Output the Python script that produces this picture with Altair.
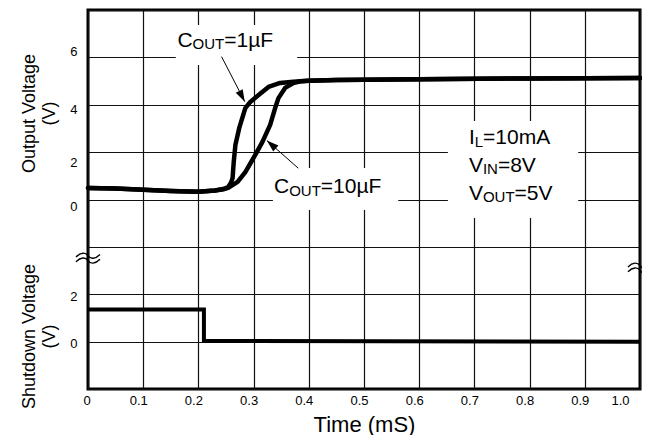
import altair as alt
import pandas as pd

WIDTH, HEIGHT = 552, 379
Y_OUT_DOMAIN = [-8, 8]
Y_SD_DOMAIN = [-2, 14]
PX_T = WIDTH / 1.0            # pixels per ms
PX_V = HEIGHT / 16.0          # pixels per volt
FONT = "Liberation Sans"

# ---------------- data ----------------
# shared start of both output curves
t_start = [0.00, 0.05, 0.10, 0.15, 0.20, 0.23]
v_start = [0.49, 0.46, 0.41, 0.36, 0.33, 0.38]
# C_OUT = 1 uF rise
t_1uf = [0.245, 0.254, 0.259, 0.262, 0.263, 0.264, 0.267, 0.274, 0.285, 0.294, 0.309, 0.327, 0.348, 0.372]
v_1uf = [0.44, 0.53, 0.71, 0.91, 1.26, 1.58, 2.30, 3.02, 3.86, 4.12, 4.41, 4.75, 4.92, 4.97]
# C_OUT = 10 uF rise
t_10uf = [0.245, 0.254, 0.271, 0.285, 0.303, 0.316, 0.330, 0.339, 0.345, 0.357, 0.372, 0.385]
v_10uf = [0.43, 0.49, 0.74, 1.16, 1.88, 2.43, 3.15, 3.86, 4.28, 4.71, 4.92, 4.99]
# shared settled tail
t_tail = [0.40, 0.45, 0.60, 0.80, 1.00]
v_tail = [5.01, 5.04, 5.08, 5.11, 5.13]

# shutdown voltage
t_sd = [0.00, 0.21, 0.21, 1.00]
v_sd = [1.36, 1.36, 0.03, 0.00]

# axis tick values
x_ticks = [0, 0.1, 0.2, 0.3, 0.4, 0.5, 0.6, 0.7, 0.8, 0.9, 1.0]
y_out_ticks = [-8, -6, -4, -2, 0, 2, 4, 6, 8]
y_sd_ticks = [0, 2]

# annotations (anchor = left end of text baseline)
ann_t = [0.162, 0.337, 0.690, 0.690, 0.690]
ann_v = [6.45, 0.26, 2.34, 1.17, -0.02]
ann_parts = [
    [("C", False), ("OUT", True), ("=1µF", False)],
    [("C", False), ("OUT", True), ("=10µF", False)],
    [("I", False), ("L", True), ("=10mA", False)],
    [("V", False), ("IN", True), ("=8V", False)],
    [("V", False), ("OUT", True), ("=5V", False)],
]
# white boxes behind the annotations
box_t = [0.159, 0.335, 0.652]
box_t2 = [0.379, 0.562, 0.888]
box_v = [7.37, 1.33, 3.31]
box_v2 = [5.68, -0.44, -0.78]
# arrows: start -> tip
arr_t = [0.242, 0.381]
arr_v = [6.03, 1.32]
arr_t2 = [0.284, 0.324]
arr_v2 = [4.13, 2.49]
arr_angle = [152.6, 311.6]
# axis break marks
brk_t = [0.0, 1.0]
brk_v = [-2.45, -2.87]

MAIN_SIZE, SUB_SIZE = 21, 15
SUB_SHIFT_PX = 2.5
CHAR_W = {"C": 722, "O": 778, "U": 722, "T": 611, "=": 584, "0": 556, "1": 556,
          "5": 556, "8": 556, "µ": 576, "F": 611, "I": 278, "L": 556, "m": 833,
          "A": 667, "V": 667, "N": 722}

# ---------------- tables ----------------
rows = []
for name, tt, vv in [("1µF", t_1uf, v_1uf), ("10µF", t_10uf, v_10uf)]:
    ts = t_start + tt + t_tail
    vs = v_start + vv + v_tail
    for i, (a, b) in enumerate(zip(ts, vs)):
        rows.append({"series": name, "t": a, "v": b, "o": i})
curves = pd.DataFrame(rows)

sd = pd.DataFrame({"t": t_sd, "v": v_sd, "o": list(range(len(t_sd)))})

seg_rows = []
for t0, v0, parts in zip(ann_t, ann_v, ann_parts):
    off = 0.0
    for txt, sub in parts:
        size = SUB_SIZE if sub else MAIN_SIZE
        seg_rows.append({"t": t0 + off / PX_T,
                         "v": v0 - (SUB_SHIFT_PX / PX_V if sub else 0.0),
                         "text": txt, "size": size})
        off += sum(CHAR_W[c] for c in txt) * size / 1000.0
segs = pd.DataFrame(seg_rows)

boxes = pd.DataFrame({"t": box_t, "t2": box_t2, "v": box_v, "v2": box_v2})
arrows = pd.DataFrame({"t": arr_t, "v": arr_v, "t2": arr_t2, "v2": arr_v2})
heads = pd.DataFrame({"t": arr_t2, "v": arr_v2, "angle": arr_angle})
breaks = pd.DataFrame({"t": brk_t, "v": brk_v})

# ---------------- scales & axes ----------------
x_scale = alt.Scale(domain=[0, 1.0], nice=False, zero=False)
x_axis = alt.Axis(
    values=x_ticks, grid=True, ticks=False, domain=False,
    labelExpr="datum.value == 0 ? '0' : format(datum.value, '.1f')",
    labelFontSize=13, labelPadding=5,
    labelOffset={"expr": "datum.value >= 1 ? -11 : -5"},
    title="Time (mS)", titleFontSize=22, titleFontWeight="normal",
    titleBaseline="alphabetic", titleY=42,
)
y_out_scale = alt.Scale(domain=Y_OUT_DOMAIN, nice=False, zero=False)
y_out_axis = alt.Axis(
    orient="left", values=y_out_ticks, grid=True, ticks=False, domain=False,
    labelExpr="datum.value >= 0 && datum.value <= 6 ? datum.label : ''",
    labelOffset={"expr": "datum.value == 6 ? -6 : datum.value == 4 ? 5 : datum.value == 2 ? 10 : 7"},
    labelFontSize=13, labelPadding=11,
    title=["Output Voltage", "(V)"], titleFontSize=18, titleFontWeight="normal",
    titleAngle=270, titleBaseline="middle", titleAlign="center",
    titleLineHeight=20, titleX=-59, titleY=103,
)
y_sd_scale = alt.Scale(domain=Y_SD_DOMAIN, nice=False, zero=False)
y_sd_axis = alt.Axis(
    orient="left", values=y_sd_ticks, grid=False, ticks=False, domain=False,
    labelFontSize=13, labelPadding=11, labelOffset=2,
    title=["Shutdown Voltage", "(V)"], titleFontSize=18, titleFontWeight="normal",
    titleAngle=270, titleBaseline="middle", titleAlign="center",
    titleLineHeight=20, titleX=-59, titleY=326,
)

X = alt.X("t:Q", scale=x_scale, axis=x_axis)
Y = alt.Y("v:Q", scale=y_out_scale, axis=y_out_axis)

rect_layer = alt.Chart(boxes).mark_rect(color="white").encode(
    x=X, x2="t2:Q", y=Y, y2="v2:Q")

curve_layer = alt.Chart(curves).mark_line(color="black", strokeWidth=4.5,
                                          strokeJoin="round", strokeCap="round").encode(
    x=X, y=Y, detail="series:N", order="o:Q")

arrow_layer = alt.Chart(arrows).mark_rule(color="black", strokeWidth=1).encode(
    x=X, y=Y, x2="t2:Q", y2="v2:Q")

head_layer = alt.Chart(heads).mark_point(
    shape="M0,0L0.65,2L-0.65,2Z", size=144, filled=True, color="black", opacity=1,
    strokeWidth=0).encode(x=X, y=Y, angle=alt.Angle("angle:Q", scale=None))

text_layer = alt.Chart(segs).mark_text(
    align="left", baseline="alphabetic", color="black", font=FONT).encode(
    x=X, y=Y, text="text:N", size=alt.Size("size:Q", scale=None))

break_layer = alt.Chart(breaks).mark_point(
    shape="M-1,-0.05C-0.6,-0.45 -0.2,-0.45 0,-0.15C0.2,0.15 0.6,0.15 1,-0.25"
          "M-1,0.35C-0.6,-0.05 -0.2,-0.05 0,0.25C0.2,0.55 0.6,0.55 1,0.15",
    size=576, filled=False, color="black", strokeWidth=1.4, opacity=1).encode(x=X, y=Y)

out_layers = alt.layer(rect_layer, curve_layer, arrow_layer, head_layer,
                       text_layer, break_layer)

sd_layer = alt.Chart(sd).mark_line(color="black", strokeWidth=4, strokeJoin="miter").encode(
    x=X, y=alt.Y("v:Q", scale=y_sd_scale, axis=y_sd_axis), order="o:Q")

chart = (
    alt.layer(out_layers, sd_layer)
    .resolve_scale(y="independent")
    .properties(width=WIDTH, height=HEIGHT,
                autosize=alt.AutoSizeParams(type="none"),
                padding={"left": 80, "top": 2, "right": 2, "bottom": 46})
    .configure(font=FONT)
    .configure_view(stroke="black", strokeWidth=3)
    .configure_axis(gridColor="#111111", gridWidth=1.2, gridOpacity=1,
                    labelColor="black", titleColor="black", labelFont=FONT, titleFont=FONT)
)

chart.save("out.html", embed_options={"renderer": "svg", "actions": False})
